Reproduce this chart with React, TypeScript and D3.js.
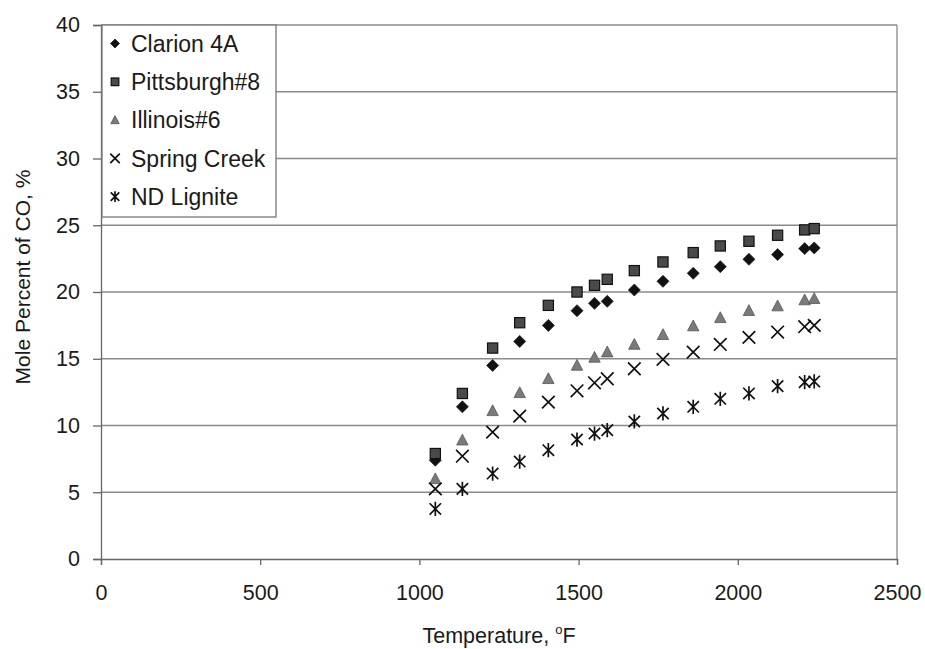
import React, { useEffect, useRef } from "react";
import * as d3 from "d3";

// temperatures (°F) shared by every coal
const temps = [1050, 1135, 1230, 1315, 1405, 1495, 1550, 1590, 1675, 1765, 1860, 1945, 2035, 2125, 2210, 2240];

const clarion = [7.4, 11.4, 14.5, 16.3, 17.5, 18.6, 19.15, 19.3, 20.15, 20.8, 21.4, 21.9, 22.45, 22.8, 23.25, 23.3];
const pittsburgh = [7.9, 12.4, 15.8, 17.7, 19.0, 20.0, 20.5, 20.95, 21.6, 22.25, 22.95, 23.45, 23.8, 24.25, 24.65, 24.75];
const illinois = [6.0, 8.9, 11.1, 12.45, 13.5, 14.5, 15.1, 15.5, 16.07, 16.8, 17.45, 18.07, 18.6, 18.95, 19.4, 19.5];
const springCreek = [5.25, 7.7, 9.5, 10.7, 11.75, 12.6, 13.2, 13.5, 14.25, 14.95, 15.5, 16.07, 16.6, 17.0, 17.4, 17.5];
const ndLignite = [3.75, 5.25, 6.4, 7.3, 8.15, 8.95, 9.4, 9.65, 10.3, 10.9, 11.4, 12.0, 12.4, 12.95, 13.25, 13.3];

const seriesNames = ["Clarion 4A", "Pittsburgh#8", "Illinois#6", "Spring Creek", "ND Lignite"];
const seriesValues = [clarion, pittsburgh, illinois, springCreek, ndLignite];
const seriesShapes = ["diamond", "square", "triangle", "cross", "star"];

const xTicks = [0, 500, 1000, 1500, 2000, 2500];
const yTicks = [0, 5, 10, 15, 20, 25, 30, 35, 40];

const FONT = "'Liberation Sans', Arial, sans-serif";

function drawMarker(g, shape, s) {
  // s = half size
  if (shape === "diamond") {
    g.append("path")
      .attr("d", `M0,${-s}L${s},0L0,${s}L${-s},0Z`)
      .attr("fill", "#111")
      .attr("stroke", "#222")
      .attr("stroke-width", 0.8);
  } else if (shape === "square") {
    g.append("rect")
      .attr("x", -s * 0.85)
      .attr("y", -s * 0.85)
      .attr("width", s * 1.7)
      .attr("height", s * 1.7)
      .attr("fill", "#4a4a4a")
      .attr("stroke", "#111")
      .attr("stroke-width", 1.2);
  } else if (shape === "triangle") {
    g.append("path")
      .attr("d", `M0,${-s}L${s * 0.95},${s * 0.8}L${-s * 0.95},${s * 0.8}Z`)
      .attr("fill", "#7a7a7a")
      .attr("stroke", "#555")
      .attr("stroke-width", 0.8);
  } else if (shape === "cross") {
    const c = s * 1.05;
    g.append("path")
      .attr("d", `M${-c},${-c}L${c},${c}M${-c},${c}L${c},${-c}`)
      .attr("stroke", "#111")
      .attr("stroke-width", 1.7)
      .attr("fill", "none");
  } else {
    const c = s * 0.95;
    g.append("path")
      .attr("d", `M${-c},${-c}L${c},${c}M${-c},${c}L${c},${-c}M0,${-c * 1.25}L0,${c * 1.25}`)
      .attr("stroke", "#111")
      .attr("stroke-width", 1.7)
      .attr("fill", "none");
  }
}

const App = () => {
  const ref = useRef(null);

  useEffect(() => {
    const root = d3.select(ref.current);
    root.selectAll("*").remove();

    const left = 101;
    const right = 897;
    const top = 25;
    const bottom = 559;

    const x = d3.scaleLinear().domain([0, 2500]).range([left, right]);
    const y = d3.scaleLinear().domain([0, 40]).range([bottom, top]);

    const svg = root
      .append("svg")
      .attr("width", 925)
      .attr("height", 649)
      .style("position", "absolute")
      .style("left", 0)
      .style("top", 0)
      .style("font-family", FONT);

    svg.append("rect").attr("width", 925).attr("height", 649).attr("fill", "#fff");

    // horizontal grid
    svg
      .append("g")
      .selectAll("line")
      .data(yTicks.filter((t) => t > 0))
      .join("line")
      .attr("x1", left)
      .attr("x2", right)
      .attr("y1", (d) => y(d))
      .attr("y2", (d) => y(d))
      .attr("stroke", "#8a8a8a")
      .attr("stroke-width", 1.3);

    // right border
    svg
      .append("line")
      .attr("x1", right)
      .attr("x2", right)
      .attr("y1", top)
      .attr("y2", bottom)
      .attr("stroke", "#8a8a8a")
      .attr("stroke-width", 1.3);

    const yAxis = svg
      .append("g")
      .attr("transform", `translate(${left},0)`)
      .call(d3.axisLeft(y).tickValues(yTicks).tickSize(8).tickPadding(13).tickFormat(d3.format("d")));
    yAxis.select(".domain").attr("stroke", "#666").attr("stroke-width", 1.3);
    yAxis.selectAll(".tick line").attr("stroke", "#666").attr("stroke-width", 1.3);
    yAxis.selectAll("text").attr("font-size", 21.5).attr("font-family", FONT).attr("fill", "#1a1a1a");

    const xAxis = svg
      .append("g")
      .attr("transform", `translate(0,${bottom})`)
      .call(d3.axisBottom(x).tickValues(xTicks).tickSize(6).tickPadding(20).tickFormat(d3.format("d")));
    xAxis.select(".domain").attr("stroke", "#666").attr("stroke-width", 1.3);
    xAxis.selectAll(".tick line").attr("stroke", "#666").attr("stroke-width", 1.3);
    xAxis.selectAll("text").attr("font-size", 21.5).attr("font-family", FONT).attr("fill", "#1a1a1a");

    // data points
    seriesValues.forEach((vals, i) => {
      const g = svg.append("g");
      vals.forEach((v, j) => {
        const m = g.append("g").attr("transform", `translate(${x(temps[j])},${y(v)})`);
        drawMarker(m, seriesShapes[i], 6);
      });
    });

    // legend
    const legend = svg.append("g");
    legend
      .append("rect")
      .attr("x", 102)
      .attr("y", 25)
      .attr("width", 174)
      .attr("height", 192)
      .attr("fill", "#fff")
      .attr("stroke", "#777")
      .attr("stroke-width", 1.3);
    seriesNames.forEach((name, i) => {
      const cy = 43.5 + i * 38.3;
      const m = legend.append("g").attr("transform", `translate(115,${cy})`);
      drawMarker(m, seriesShapes[i], 4.5);
      legend
        .append("text")
        .attr("x", 131)
        .attr("y", cy)
        .attr("dy", "0.36em")
        .attr("font-size", 23)
        .attr("fill", "#1a1a1a")
        .text(name);
    });

    // axis titles
    const xt = svg
      .append("text")
      .attr("x", (left + right) / 2)
      .attr("y", 643)
      .attr("text-anchor", "middle")
      .attr("font-size", 21.5)
      .attr("fill", "#1a1a1a");
    xt.append("tspan").text("Temperature, ");
    xt.append("tspan").attr("font-size", 13).attr("dy", -9).text("o");
    xt.append("tspan").attr("dy", 9).text("F");

    svg
      .append("text")
      .attr("transform", `translate(30,277) rotate(-90)`)
      .attr("text-anchor", "middle")
      .attr("font-size", 21)
      .attr("fill", "#1a1a1a")
      .text("Mole Percent of CO, %");
  }, []);

  return <div ref={ref} style={{ width: 925, height: 649 }}></div>;
};

export default App;
